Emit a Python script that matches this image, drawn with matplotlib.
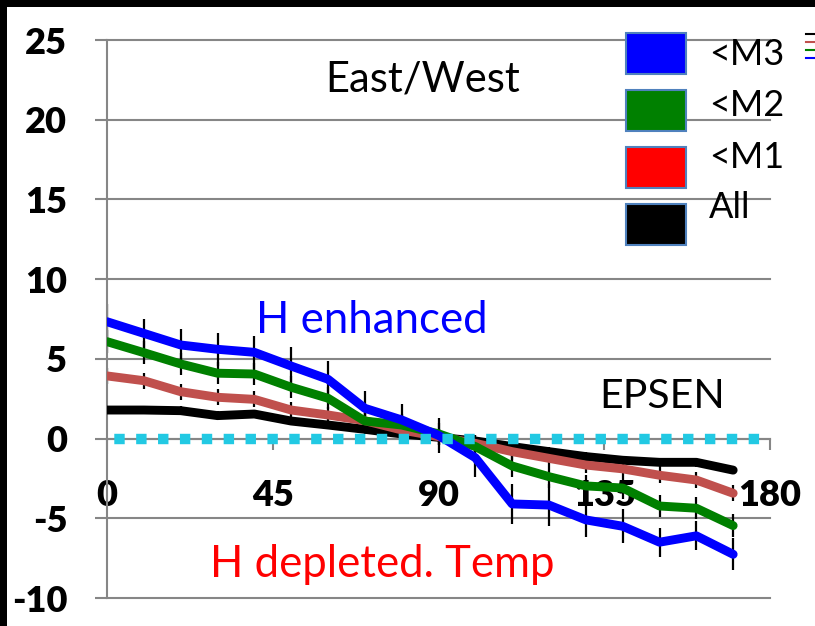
import matplotlib
matplotlib.use("Agg")
import matplotlib.pyplot as plt
from matplotlib.patches import Patch, Rectangle
from matplotlib.lines import Line2D

# Angle bins (degrees)
angles = [0, 10, 20, 30, 40, 50, 60, 70, 80, 90, 100, 110, 120, 130, 140, 150, 160, 170]

# Mean response per class
m3 = [7.33, 6.6, 5.87, 5.6, 5.41, 4.55, 3.72, 1.9, 1.17, 0.2,
      -1.2, -4.1, -4.17, -5.1, -5.5, -6.5, -6.1, -7.26]
m2 = [6.08, 5.39, 4.68, 4.1, 4.05, 3.22, 2.53, 1.1, 0.85, 0.3,
      -0.5, -1.72, -2.39, -2.97, -3.1, -4.23, -4.37, -5.46]
m1 = [3.93, 3.63, 2.94, 2.59, 2.46, 1.79, 1.48, 1.12, 0.54, 0.12,
      -0.3, -0.82, -1.24, -1.66, -1.9, -2.3, -2.6, -3.43]
all_ev = [1.79, 1.79, 1.75, 1.44, 1.54, 1.1, 0.85, 0.58, 0.29, 0.08,
          -0.15, -0.5, -0.82, -1.13, -1.36, -1.49, -1.49, -1.98]

# Standard errors
m3_err = [1.1, 0.9, 1.0, 1.05, 1.03, 1.18, 1.17, 1.1, 1.0, 1.1,
          1.2, 1.28, 1.29, 1.05, 1.07, 0.9, 0.9, 1.0]
m2_err = 0.7
m1_err = 0.5
all_err = 0.27

# Zero reference
zero_x = [0, 180]
zero_y = [0, 0]

series_names = ["<M3", "<M2", "<M1", "All"]
x_ticks = [0, 45, 90, 135, 180]
y_ticks = [-10, -5, 0, 5, 10, 15, 20, 25]

FONT = "Lato"
GRAY = "#868686"
C_M3 = "#0000ff"
C_M2 = "#008000"
C_M1 = "#c0504d"
C_ALL = "#000000"
C_ZERO = "#22c9e3"

W, H = 815, 626
fig = plt.figure(figsize=(W / 100, H / 100), dpi=100)
fig.patch.set_facecolor("white")

ax = fig.add_axes([107 / W, 1 - 598 / H, (770 - 107) / W, (598 - 40) / H])
ax.set_xlim(0, 180)
ax.set_ylim(-10, 25)
ax.set_xticks(x_ticks)
ax.set_yticks(y_ticks)
ax.set_xticklabels([str(v) for v in x_ticks])
ax.set_yticklabels([str(v) for v in y_ticks])

for s in ("top", "right"):
    ax.spines[s].set_visible(False)
ax.spines["left"].set_color(GRAY)
ax.spines["left"].set_linewidth(1.5)
ax.spines["bottom"].set_position(("data", 0))
ax.spines["bottom"].set_color(GRAY)
ax.spines["bottom"].set_linewidth(1.5)

ax.grid(axis="y", color=GRAY, linewidth=1.5)
ax.set_axisbelow(True)
for t in ax.yaxis.get_major_ticks():
    t.gridline.set_clip_on(False)

ax.tick_params(axis="y", length=8.6, width=1.5, color=GRAY, pad=20)
ax.tick_params(axis="x", direction="out", length=8, width=1.5, color=GRAY, pad=21)
for lab in ax.get_xticklabels() + ax.get_yticklabels():
    lab.set_fontfamily(FONT)
    lab.set_fontweight("heavy")
    lab.set_fontsize(26)

# Error bars sit behind the curves
for vals, err in ((m3, m3_err), (m2, m2_err), (m1, m1_err), (all_ev, all_err)):
    ax.errorbar(angles, vals, yerr=err, fmt="none", ecolor="black",
                elinewidth=1.6, capsize=0, zorder=2)

line_kw = dict(linewidth=6.4, solid_capstyle="round", solid_joinstyle="round")
ax.plot(angles, all_ev, color=C_ALL, zorder=3, **line_kw)
ax.plot(angles, m1, color=C_M1, zorder=4, **line_kw)
ax.plot(angles, m2, color=C_M2, zorder=5, **line_kw)
ax.plot(angles, m3, color=C_M3, zorder=6, **line_kw)
ax.plot(zero_x, zero_y, color=C_ZERO, linewidth=7.5,
        linestyle=(1.4, (1.0, 1.1)), dash_capstyle="butt", zorder=7)

# Annotations
ax.text(85.8, 21.74, "East/West", fontfamily=FONT, fontsize=30,
        ha="center", va="baseline", color="black")
ax.text(72, 6.6, "H enhanced", fontfamily=FONT, fontsize=31.5,
        ha="center", va="baseline", color=C_M3)
ax.text(150.7, 1.92, "EPSEN", fontfamily=FONT, fontsize=29.5,
        ha="center", va="baseline", color="black")
ax.text(74.7, -8.68, "H depleted. Temp", fontfamily=FONT, fontsize=31.5,
        ha="center", va="baseline", color="#ff0000")

# Legend: colour boxes, with the labels set beside them
box_cols = [C_M3, C_M2, "#ff0000", C_ALL]
handles = [Patch(facecolor=c, edgecolor="#4f81bd", linewidth=1.5) for c in box_cols]
leg = ax.legend(handles, ["", "", "", ""], loc="upper left",
                bbox_to_anchor=(626 / W, 1 - 33 / H), bbox_transform=fig.transFigure,
                frameon=False, borderpad=0, borderaxespad=0,
                handlelength=1.66, handleheight=1.37, labelspacing=0.44,
                handletextpad=0.61, prop={"family": FONT, "size": 26})
ax.add_artist(leg)
label_baselines = [65, 116, 168, 218]
for name, yb in zip(series_names, label_baselines):
    fig.text(709 / W, 1 - yb / H, name, fontfamily=FONT, fontsize=26,
             ha="left", va="baseline", color="black")

# Line-style key running off the right edge
key_handles = [Line2D([], [], color=c, linewidth=1.5) for c in (C_ALL, C_M1, C_M2, C_M3)]
ax.legend(key_handles, ["", "", "", ""], loc="upper left",
          bbox_to_anchor=(806 / W, 1 - 31 / H), bbox_transform=fig.transFigure,
          frameon=False, borderpad=0, borderaxespad=0, handlelength=2.5,
          labelspacing=0.1, prop={"family": FONT, "size": 6})

# Dark frame strips on the top and left edges
fig.add_artist(Rectangle((0, 0), 7 / W, 1, transform=fig.transFigure,
                         facecolor="black", edgecolor="none", zorder=10))
fig.add_artist(Rectangle((0, 1 - 7 / H), 1, 7 / H, transform=fig.transFigure,
                         facecolor="black", edgecolor="none", zorder=10))

fig.savefig("out.png", dpi=100)
